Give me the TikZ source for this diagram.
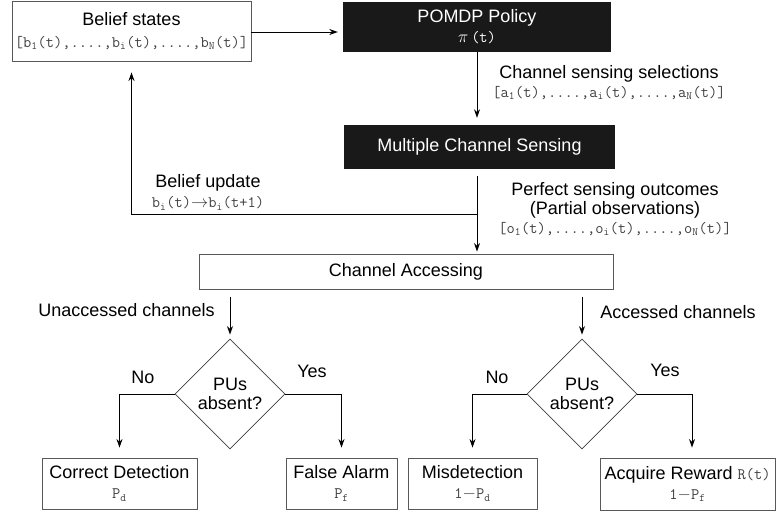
\documentclass[tikz,border=0pt]{standalone}
\usepackage{fontspec}
\setsansfont{Liberation Sans}
\usepackage{tikz}
\usetikzlibrary{shapes.geometric, arrows.meta}
\newcommand{\tvar}[2][black!75]{{\ttfamily\fontsize{16}{17}\selectfont\color{#1}#2}}

\begin{document}
\begin{tikzpicture}[x=1pt, y=-1pt, font=\sffamily\fontsize{18}{19}\selectfont,
    box/.style={rectangle, draw=black!65, line width=0.9pt, align=center, inner sep=0pt},
    dark/.style={rectangle, fill=black!90, text=white, align=center, inner sep=0pt},
    test/.style={diamond, draw=black!75, line width=0.8pt, minimum width=110pt, minimum height=110pt, inner sep=0pt, align=center},
    arr/.style={-{Stealth[length=8.5pt,width=6pt]}, line width=0.9pt},
    lbl/.style={align=center, inner sep=0pt}]
    \useasboundingbox (0,0) rectangle (776,515);
    % Nodes
    \node[box, minimum width=239pt, minimum height=60pt] (belief) at (131.5,31) {Belief states\\[3pt] \tvar{[b\textsubscript{1}(t),....,b\textsubscript{i}(t),....,b\textsubscript{N}(t)]}};
    \node[dark, minimum width=268pt, minimum height=50pt] (policy) at (477,27) {POMDP Policy\\[1pt] $\pi$\,\tvar[white]{(t)}};
    \node[dark, minimum width=271pt, minimum height=44pt] (sensing) at (479.5,147) {Multiple Channel Sensing};
    \node[box, minimum width=414pt, minimum height=35pt] (access) at (406,271.5) {Channel Accessing};
    \node[test] (dl) at (230,394) {PUs\\absent?};
    \node[test] (dr) at (582,394) {PUs\\absent?};
    \node[box, minimum width=155pt, minimum height=51pt] (cd) at (119.5,483.5) {Correct Detection\\[1pt] \tvar{P\textsubscript{d}}};
    \node[box, minimum width=111pt, minimum height=51pt] (fa) at (341.5,483.5) {False Alarm\\[1pt] \tvar{P\textsubscript{f}}};
    \node[box, minimum width=129pt, minimum height=51pt] (md) at (472.5,483.5) {Misdetection\\[1pt] \tvar{1$-$P\textsubscript{d}}};
    \node[box, minimum width=175pt, minimum height=52pt] (ar) at (687.5,484) {Acquire Reward \tvar{R(t)}\\[1pt] \tvar{1$-$P\textsubscript{f}}};
    % Labels
    \node[lbl] (sel) at (609,82.5) {Channel sensing selections\\ \tvar{[a\textsubscript{1}(t),....,a\textsubscript{i}(t),....,a\textsubscript{N}(t)]}};
    \node[lbl] (upd) at (208,192.5) {Belief update\\[1pt] \tvar{b\textsubscript{i}(t)$\rightarrow$b\textsubscript{i}(t+1)}};
    \node[lbl] (obs) at (615,209) {Perfect sensing outcomes\\(Partial observations)\\ \tvar{[o\textsubscript{1}(t),....,o\textsubscript{i}(t),....,o\textsubscript{N}(t)]}};
    \node[lbl] (unacc) at (126.5,310) {Unaccessed channels};
    \node[lbl] (acc) at (678,312) {Accessed channels};
    \node[lbl] (no1) at (143,377) {No};
    \node[lbl] (yes1) at (312,371) {Yes};
    \node[lbl] (no2) at (497,377) {No};
    \node[lbl] (yes2) at (665,370) {Yes};
    \coordinate (split) at (policy.south |- 0,214);
    % Connections
    \draw[arr, shorten >=5pt] (belief.east |- 0,32) -- (policy.west |- 0,32);
    \draw[arr, shorten >=7pt] (policy.south) -- (policy.south |- sensing.north);
    \draw[arr, shorten <=7pt, shorten >=2pt] (policy.south |- sensing.south) -- (policy.south |- access.north);
    \draw[arr, shorten >=11pt] (split) -| (belief.south);
    \draw[arr, shorten <=8pt, shorten >=4pt] (dl.north |- access.south) -- (dl.north);
    \draw[arr, shorten <=8pt, shorten >=4pt] (dr.north |- access.south) -- (dr.north);
    \draw[arr, shorten >=10pt] (dl.west) -| (cd.north);
    \draw[arr, shorten >=10pt] (dl.east) -| (fa.north);
    \draw[arr, shorten >=10pt] (dr.west) -| (md.north);
    \draw[arr, shorten >=10pt] (dr.east) -| ([xshift=4.5pt]ar.north);
\end{tikzpicture}
\end{document}
